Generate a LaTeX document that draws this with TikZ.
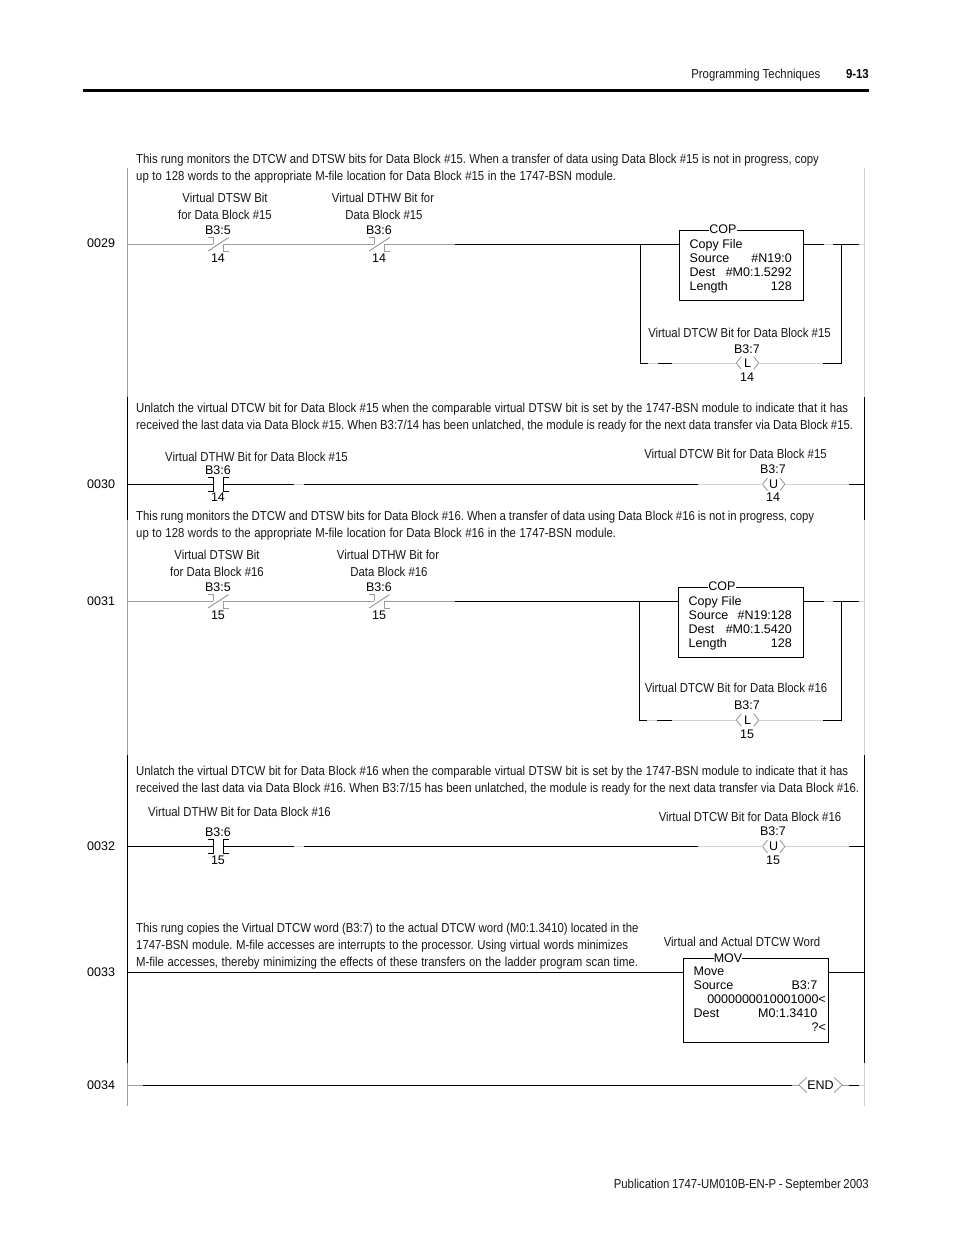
\documentclass[tikz,border=0pt]{standalone}
\usepackage{fontspec}
\setmainfont{Liberation Sans}
\newfontfamily\narrowfam[FakeStretch=0.875]{Liberation Sans}
\frenchspacing
\definecolor{midgray}{HTML}{9C9C9C}
\definecolor{palegray}{HTML}{D2D2D2}
\tikzset{
  x=1pt,y=-1pt,
  narrow/.style={inner sep=0pt,font=\narrowfam\frenchspacing\fontsize{13}{15}\selectfont,text=black!90},
  para/.style={narrow,anchor=base west},
  capc/.style={narrow,anchor=base},
  capl/.style={narrow,anchor=base west},
  plc/.style={inner sep=0pt,anchor=base,font=\fontsize{12.5}{14}\selectfont},
  pll/.style={inner sep=0pt,anchor=base west,font=\fontsize{12.5}{14}\selectfont},
  plr/.style={inner sep=0pt,anchor=base east,font=\fontsize{12.5}{14}\selectfont},
  wire/.style={line width=1pt,black},
  grayw/.style={line width=1pt,midgray},
  palew/.style={line width=1pt,palegray},
  ibox/.style={draw=black,line width=1pt,fill=white,inner sep=0pt},
  boxtitle/.style={inner sep=0pt,fill=white,font=\fontsize{12.5}{12}\selectfont},
  coilbody/.style={inner sep=0pt,font=\fontsize{12.5}{12}\selectfont},
  contactbody/.style={inner sep=0pt,minimum width=10pt,minimum height=13pt},
}
% contact: #1 name, #2 x, #3 y, #4 colour
\newcommand{\contactNO}[4]{%
  \node[contactbody] (#1) at (#2,#3) {};
  \draw[line width=1pt,#4] ([xshift=-5pt]#1.north west) -- (#1.north west) -- (#1.south west) -- ([xshift=-5pt]#1.south west);
  \draw[line width=1pt,#4] ([xshift=5pt]#1.north east) -- (#1.north east) -- (#1.south east) -- ([xshift=5pt]#1.south east);
}
\newcommand{\contactNC}[4]{%
  \node[contactbody] (#1) at (#2,#3) {};
  \draw[line width=1pt,#4] ([xshift=-5pt]#1.north west) -- (#1.north west) -- (#1.west);
  \draw[line width=1pt,#4] (#1.east) -- (#1.south east) -- ([xshift=5pt]#1.south east);
  \draw[line width=1pt,#4] ([xshift=-5pt]#1.south west) -- ([xshift=5pt]#1.north east);
}
% coil: #1 name, #2 x, #3 y, #4 letter, #5 half width, #6 half height, #7 tip
\newcommand{\coil}[7]{%
  \node[coilbody,minimum width=2*#5 pt,minimum height=2*#6 pt] (#1) at (#2,#3) {#4};
  \draw[line width=.9pt,midgray] ([xshift=#7 pt]#1.north west) -- (#1.west) -- ([xshift=#7 pt]#1.south west);
  \draw[line width=.9pt,midgray] ([xshift=-#7 pt]#1.north east) -- (#1.east) -- ([xshift=-#7 pt]#1.south east);
}
\begin{document}
\begin{tikzpicture}
\useasboundingbox (0,0) rectangle (954,1235);
\fill[white] (0,0) rectangle (954,1235);

% header and footer
\node[narrow,anchor=base east] (hdr) at (820.5,78.5) {Programming Techniques};
\node[inner sep=0pt,anchor=base east,font=\narrowfam\bfseries\fontsize{13}{15}\selectfont] (pg) at (869,78.5) {9-13};
\coordinate (ruleL) at (83,90.5); \coordinate (ruleR) at (869,90.5);
\draw[line width=3pt,black] (ruleL) -- (ruleR);
\node[narrow,anchor=base east] (ftr) at (869,1188) {\makebox[255pt][s]{Publication 1747-UM010B-EN-P - September 2003}};

% power rails
\foreach \n/\y in {a/168,b/397,c/520,d/755,e/1063,f/1106}{
  \coordinate (L\n) at (127.5,\y);
  \coordinate (R\n) at (864.5,\y);
}
\draw[grayw] (La) -- (Lb);
\draw[wire] (Lb) -- (Lc);
\draw[grayw] (Lc) -- (Ld);
\draw[wire] (Ld) -- (Le);
\draw[grayw] (Le) -- (Lf);
\draw[palew] (Ra) -- (Rb);
\draw[wire] (Rb) -- (Rc);
\draw[palew] (Rc) -- (Rd);
\draw[wire] (Rd) -- (Re);
\draw[palew] (Re) -- (Rf);

% rung numbers
\node[pll] (n29) at (87,247.5) {0029};
\node[pll] (n30) at (87,488) {0030};
\node[pll] (n31) at (87,605) {0031};
\node[pll] (n32) at (87,850) {0032};
\node[pll] (n33) at (87,976) {0033};
\node[pll] (n34) at (87,1089) {0034};

% ---------- rung 0029
\node[para] (p29a) at (136,163.5) {This rung monitors the DTCW and DTSW bits for Data Block \#15. When a transfer of data using Data Block \#15 is not in progress, copy};
\node[para] (p29b) at (136,180.5) {\makebox[480pt][s]{up to 128 words to the appropriate M-file location for Data Block \#15 in the 1747-BSN module.}};
\node[capc] (c29a) at (225,202) {Virtual DTSW Bit};
\node[capc] (c29b) at (225,219) {for Data Block \#15};
\node[capc] (c29c) at (383,202) {Virtual DTHW Bit for};
\node[capc] (c29d) at (384,219) {Data Block \#15};
\node[plc] (a29a) at (218,234) {B3:5};
\node[plc] (a29b) at (379,234) {B3:6};
\node[plc] (b29a) at (218,262) {14};
\node[plc] (b29b) at (379,262) {14};
\contactNC{k29a}{218.3}{244.3}{midgray}
\contactNC{k29b}{379.3}{244.3}{midgray}
\coordinate (w29s) at (127.5,244.3);
\coordinate (w29k) at (455,244.3);
\coordinate (w29j) at (640.7,244.3);
\draw[grayw] (w29s) -- (k29a.west);
\draw[grayw] (k29a.east) -- (k29b.west);
\draw[grayw] (k29b.east) -- (w29k);
\draw[wire] (w29k) -- (w29j);
\node[ibox,minimum width=123.5pt,minimum height=70pt] (cop29) at (741.5,265) {};
\draw[wire] (w29j) -- (cop29.west|-w29j);
\coordinate (w29o1) at (824,244.3); \coordinate (w29o2) at (833,244.3);
\coordinate (w29o3) at (859,244.3); \coordinate (w29e) at (864.5,244.3);
\draw[wire] (cop29.east|-w29o1) -- (w29o1);
\draw[palew] (w29o1) -- (w29o2);
\draw[wire] (w29o2) -- (w29o3);
\draw[palew] (w29o3) -- (w29e);
\node[boxtitle,anchor=base] (t29) at (723,233.5) {COP};
\node[pll] (x29a) at (689.5,248) {Copy File};
\node[pll] (x29b) at (689.5,262) {Source};
\node[plr] (x29c) at (792,262) {\#N19:0};
\node[pll] (x29d) at (689.5,276) {Dest};
\node[plr] (x29e) at (792,276) {\#M0:1.5292};
\node[pll] (x29f) at (689.5,290) {Length};
\node[plr] (x29g) at (792,290) {128};
\node[capc] (c29e) at (739.5,337.5) {Virtual DTCW Bit for Data Block \#15};
\node[plc] (a29c) at (747,353) {B3:7};
\node[plc] (b29c) at (747,381) {14};
\coil{h29}{747.5}{363}{L}{11}{6.2}{5}
\coordinate (w29bl) at (640.7,363); \coordinate (w29br) at (841.7,363);
\coordinate (w29b1) at (648,363); \coordinate (w29b2) at (658,363);
\coordinate (w29b3) at (672,363); \coordinate (w29b4) at (823,363);
\coordinate (w29jr) at (841.7,244.3);
\draw[wire] (w29j) -- (w29bl) -- (w29b1);
\draw[palew] (w29b1) -- (w29b2);
\draw[wire] (w29b2) -- (w29b3);
\draw[palew] (w29b3) -- (h29.west);
\draw[palew] (h29.east) -- (w29b4);
\draw[wire] (w29b4) -- (w29br) -- (w29jr);

% ---------- rung 0030
\node[para] (p30a) at (136,412) {\makebox[712pt][s]{Unlatch the virtual DTCW bit for Data Block \#15 when the comparable virtual DTSW bit is set by the 1747-BSN module to indicate that it has}};
\node[para] (p30b) at (136,429) {\makebox[717pt][s]{received the last data via Data Block \#15. When B3:7/14 has been unlatched, the module is ready for the next data transfer via Data Block \#15.}};
\node[capl] (c30a) at (165,461) {Virtual DTHW Bit for Data Block \#15};
\node[capc] (c30b) at (735.5,458) {Virtual DTCW Bit for Data Block \#15};
\node[plc] (a30a) at (218,474) {B3:6};
\node[plc] (b30a) at (218,501.5) {14};
\node[plc] (a30b) at (773,473) {B3:7};
\node[plc] (b30b) at (773,501.5) {14};
\contactNO{k30}{218.3}{484.3}{black}
\coil{h30}{773.7}{484.3}{U}{11}{6.2}{5}
\coordinate (w30s) at (127.5,484.3);
\coordinate (w30a) at (294,484.3); \coordinate (w30b) at (304,484.3);
\coordinate (w30c) at (698,484.3); \coordinate (w30d) at (849,484.3);
\coordinate (w30e) at (864.5,484.3);
\draw[wire] (w30s) -- (k30.west);
\draw[wire] (k30.east) -- (w30a);
\draw[palew] (w30a) -- (w30b);
\draw[wire] (w30b) -- (w30c);
\draw[palew] (w30c) -- (h30.west);
\draw[palew] (h30.east) -- (w30d);
\draw[wire] (w30d) -- (w30e);

% ---------- rung 0031
\node[para] (p31a) at (136,520.5) {\makebox[678pt][s]{This rung monitors the DTCW and DTSW bits for Data Block \#16. When a transfer of data using Data Block \#16 is not in progress, copy}};
\node[para] (p31b) at (136,537.5) {\makebox[480pt][s]{up to 128 words to the appropriate M-file location for Data Block \#16 in the 1747-BSN module.}};
\node[capc] (c31a) at (217,559) {Virtual DTSW Bit};
\node[capc] (c31b) at (217,576) {for Data Block \#16};
\node[capc] (c31c) at (388,559) {Virtual DTHW Bit for};
\node[capc] (c31d) at (389,576) {Data Block \#16};
\node[plc] (a31a) at (218,591) {B3:5};
\node[plc] (a31b) at (379,591) {B3:6};
\node[plc] (b31a) at (218,619) {15};
\node[plc] (b31b) at (379,619) {15};
\contactNC{k31a}{218.3}{601.3}{midgray}
\contactNC{k31b}{379.3}{601.3}{midgray}
\coordinate (w31s) at (127.5,601.3);
\coordinate (w31k) at (455,601.3);
\coordinate (w31j) at (639.5,601.3);
\draw[grayw] (w31s) -- (k31a.west);
\draw[grayw] (k31a.east) -- (k31b.west);
\draw[grayw] (k31b.east) -- (w31k);
\draw[wire] (w31k) -- (w31j);
\node[ibox,minimum width=124.5pt,minimum height=70pt] (cop31) at (741,622) {};
\draw[wire] (w31j) -- (cop31.west|-w31j);
\coordinate (w31o1) at (824,601.3); \coordinate (w31o2) at (833,601.3);
\coordinate (w31o3) at (859,601.3); \coordinate (w31e) at (864.5,601.3);
\draw[wire] (cop31.east|-w31o1) -- (w31o1);
\draw[palew] (w31o1) -- (w31o2);
\draw[wire] (w31o2) -- (w31o3);
\draw[palew] (w31o3) -- (w31e);
\node[boxtitle,anchor=base] (t31) at (722,590.5) {COP};
\node[pll] (x31a) at (688.5,605) {Copy File};
\node[pll] (x31b) at (688.5,619) {Source};
\node[plr] (x31c) at (792,619) {\#N19:128};
\node[pll] (x31d) at (688.5,633) {Dest};
\node[plr] (x31e) at (792,633) {\#M0:1.5420};
\node[pll] (x31f) at (688.5,647) {Length};
\node[plr] (x31g) at (792,647) {128};
\node[capc] (c31e) at (736,692) {Virtual DTCW Bit for Data Block \#16};
\node[plc] (a31c) at (747,709.5) {B3:7};
\node[plc] (b31c) at (747,738) {15};
\coil{h31}{747.5}{720}{L}{11}{6.2}{5}
\coordinate (w31bl) at (639.5,720); \coordinate (w31br) at (841.7,720);
\coordinate (w31b1) at (647,720); \coordinate (w31b2) at (657,720);
\coordinate (w31b3) at (672,720); \coordinate (w31b4) at (823,720);
\coordinate (w31jr) at (841.7,601.3);
\draw[wire] (w31j) -- (w31bl) -- (w31b1);
\draw[palew] (w31b1) -- (w31b2);
\draw[wire] (w31b2) -- (w31b3);
\draw[palew] (w31b3) -- (h31.west);
\draw[palew] (h31.east) -- (w31b4);
\draw[wire] (w31b4) -- (w31br) -- (w31jr);

% ---------- rung 0032
\node[para] (p32a) at (136,775.5) {\makebox[712pt][s]{Unlatch the virtual DTCW bit for Data Block \#16 when the comparable virtual DTSW bit is set by the 1747-BSN module to indicate that it has}};
\node[para] (p32b) at (136,792.5) {\makebox[723pt][s]{received the last data via Data Block \#16. When B3:7/15 has been unlatched, the module is ready for the next data transfer via Data Block \#16.}};
\node[capl] (c32a) at (148,816) {Virtual DTHW Bit for Data Block \#16};
\node[capc] (c32b) at (750,821.5) {Virtual DTCW Bit for Data Block \#16};
\node[plc] (a32a) at (218,836) {B3:6};
\node[plc] (b32a) at (218,864) {15};
\node[plc] (a32b) at (773,835.5) {B3:7};
\node[plc] (b32b) at (773,864) {15};
\contactNO{k32}{218.3}{846.5}{black}
\coil{h32}{773.7}{846.5}{U}{11}{6.2}{5}
\coordinate (w32s) at (127.5,846.5);
\coordinate (w32a) at (294,846.5); \coordinate (w32b) at (304,846.5);
\coordinate (w32c) at (698,846.5); \coordinate (w32d) at (849,846.5);
\coordinate (w32e) at (864.5,846.5);
\draw[wire] (w32s) -- (k32.west);
\draw[wire] (k32.east) -- (w32a);
\draw[palew] (w32a) -- (w32b);
\draw[wire] (w32b) -- (w32c);
\draw[palew] (w32c) -- (h32.west);
\draw[palew] (h32.east) -- (w32d);
\draw[wire] (w32d) -- (w32e);

% ---------- rung 0033
\node[para] (p33a) at (136,932.5) {This rung copies the Virtual DTCW word (B3:7) to the actual DTCW word (M0:1.3410) located in the};
\node[para] (p33b) at (136,949.5) {\makebox[492pt][s]{1747-BSN module. M-file accesses are interrupts to the processor. Using virtual words minimizes}};
\node[para] (p33c) at (136,966.5) {\makebox[502pt][s]{M-file accesses, thereby minimizing the effects of these transfers on the ladder program scan time.}};
\node[capc] (c33a) at (742,946) {Virtual and Actual DTCW Word};
\coordinate (w33s) at (127.5,972.5); \coordinate (w33e) at (864.5,972.5);
\node[ibox,minimum width=145.5pt,minimum height=83.6pt] (mov33) at (756,1000.5) {};
\draw[wire] (w33s) -- (mov33.west|-w33s);
\draw[wire] (mov33.east|-w33e) -- (w33e);
\node[boxtitle,anchor=base] (t33) at (728,962.5) {MOV};
\node[pll] (x33a) at (693.5,975.5) {Move};
\node[pll] (x33b) at (693.5,989.5) {Source};
\node[plr] (x33c) at (817.5,989.5) {B3:7};
\node[plr] (x33d) at (826,1003.5) {0000000010001000<};
\node[pll] (x33e) at (693.5,1017.5) {Dest};
\node[plr] (x33f) at (817.5,1017.5) {M0:1.3410};
\node[plr] (x33g) at (826,1031.5) {?<};

% ---------- rung 0034
\coil{h34}{820.5}{1085}{END}{21.5}{7.3}{8}
\coordinate (w34s) at (127.5,1085); \coordinate (w34a) at (143,1085);
\coordinate (w34b) at (792,1085); \coordinate (w34c) at (849,1085);
\coordinate (w34d) at (859,1085); \coordinate (w34e) at (864.5,1085);
\draw[grayw] (w34s) -- (w34a);
\draw[wire] (w34a) -- (w34b);
\draw[grayw] (w34b) -- (h34.west);
\draw[grayw] (h34.east) -- (w34c);
\draw[wire] (w34c) -- (w34d);
\draw[palew] (w34d) -- (w34e);
\end{tikzpicture}
\end{document}
